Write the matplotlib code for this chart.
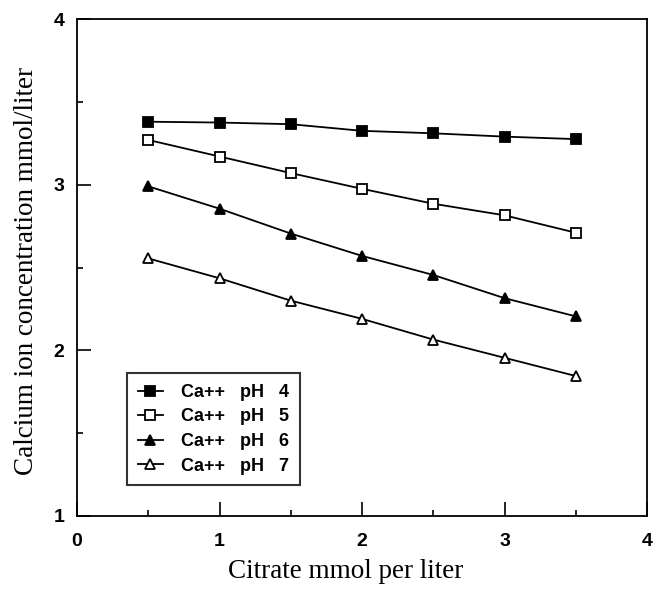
import matplotlib
matplotlib.use("Agg")
import matplotlib.pyplot as plt
from matplotlib.ticker import MultipleLocator

citrate = [0.5, 1.0, 1.5, 2.0, 2.5, 3.0, 3.5]
ca_ph4 = [3.38, 3.375, 3.365, 3.325, 3.31, 3.29, 3.275]
ca_ph5 = [3.27, 3.17, 3.07, 2.975, 2.885, 2.815, 2.71]
ca_ph6 = [2.99, 2.855, 2.705, 2.57, 2.455, 2.315, 2.205]
ca_ph7 = [2.555, 2.435, 2.30, 2.19, 2.065, 1.955, 1.845]
labels = ["Ca++   pH   4", "Ca++   pH   5", "Ca++   pH   6", "Ca++   pH   7"]
x_ticks = [0, 1, 2, 3, 4]
y_ticks = [1, 2, 3, 4]

fig = plt.figure(figsize=(6.53, 5.89), dpi=100)
ax = fig.add_axes([77/653, 73/589, 570/653, 497/589])

styles = [dict(marker="s", mfc="black"), dict(marker="s", mfc="white"),
          dict(marker="^", mfc="black"), dict(marker="^", mfc="white")]
for ys, lab, st in zip([ca_ph4, ca_ph5, ca_ph6, ca_ph7], labels, styles):
    ax.plot(citrate, ys, color="black", lw=1.3, marker=st["marker"],
            mfc=st["mfc"], mec="black", mew=1.3, ms=7, label=lab)

ax.set_xlim(0, 4)
ax.set_ylim(1, 4)
ax.set_xticks(x_ticks)
ax.set_yticks(y_ticks)
ax.xaxis.set_minor_locator(MultipleLocator(0.5))
ax.yaxis.set_minor_locator(MultipleLocator(0.5))
ax.tick_params(which="major", direction="in", length=10, width=1.2)
ax.tick_params(which="minor", direction="in", length=4, width=1.2)
ax.tick_params(axis="x", which="major", pad=12)
ax.tick_params(axis="y", which="major", pad=9)
for lab in ax.get_xticklabels() + ax.get_yticklabels():
    lab.set_fontfamily("Liberation Sans")
    lab.set_fontweight("bold")
    lab.set_fontsize(14)
for sp in ax.spines.values():
    sp.set_linewidth(1.3)

ax.set_xlabel("Citrate mmol per liter", fontfamily="Liberation Serif", fontsize=19.5)
ax.xaxis.set_label_coords((346 - 77) / 570, -(572 - 516) / 497)
ax.xaxis.label.set_va("center")
ax.set_ylabel("Calcium ion concentration mmol/liter", fontfamily="Liberation Serif", fontsize=19.5)
ax.yaxis.set_label_coords(-(77 - 27) / 570, (516 - 271) / 497)
ax.yaxis.label.set_va("center")

leg = ax.legend(loc="upper left", bbox_to_anchor=(50/570, 143/497), borderaxespad=0,
                frameon=True, fancybox=False, edgecolor="black",
                handlelength=1.4, handletextpad=1.0, borderpad=0.6, labelspacing=0.42,
                prop=dict(family="Liberation Sans", weight="bold", size=13))
leg.get_frame().set_linewidth(1.5)

fig.savefig("out.png", dpi=100)
